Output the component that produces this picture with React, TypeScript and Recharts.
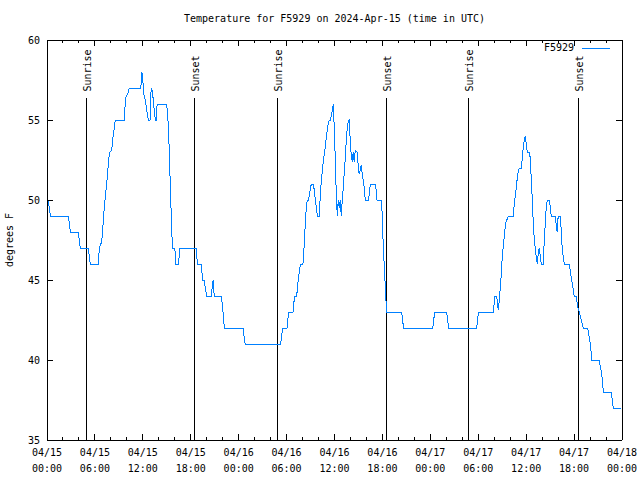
import React from 'react';
import { LineChart, Line, XAxis, YAxis, ReferenceLine, Legend } from 'recharts';

const FONT = '"DejaVu Sans Mono", "Liberation Mono", monospace';
const FS = 10;
const LINE_COLOR = '#0080ff';

const title = 'Temperature for F5929 on 2024-Apr-15 (time in UTC)';
const yLabel = 'degrees F';
const seriesName = 'F5929';

// hours since 04/15 00:00 UTC
const xTicks = [0, 2, 4, 6, 8, 10, 12, 14, 16, 18, 20, 22, 24, 26, 28, 30, 32, 34, 36, 38, 40, 42, 44, 46, 48, 50, 52, 54, 56, 58, 60, 62, 64, 66, 68, 70, 72];
const dateLabels = ['04/15', '04/15', '04/15', '04/15', '04/16', '04/16', '04/16', '04/16', '04/17', '04/17', '04/17', '04/17', '04/18'];
const timeLabels = ['00:00', '06:00', '12:00', '18:00', '00:00', '06:00', '12:00', '18:00', '00:00', '06:00', '12:00', '18:00', '00:00'];
const yTicks = [35, 40, 45, 50, 55, 60];

const sunHours = [4.92, 18.44, 28.84, 42.49, 52.75, 66.53];
const sunLabels = ['Sunrise', 'Sunset', 'Sunrise', 'Sunset', 'Sunrise', 'Sunset'];
const sunLineTop = 56.4;

// [hour, temperature F]
const day1: [number, number][] = [
  [0, 50], [0.2, 50], [0.27, 49.5], [0.45, 49], [2.67, 49], [2.8, 48.5], [2.92, 48], [3.92, 48], [4.04, 47.5], [4.17, 47],
  [5.17, 47], [5.3, 46.5], [5.42, 46], [6.42, 46], [6.55, 47], [6.85, 47.4], [6.97, 48.1], [7.1, 49.1], [7.22, 49.8],
  [7.35, 50.4], [7.47, 51], [7.6, 51.7], [7.72, 52.5], [7.85, 53], [8.1, 53.1], [8.22, 53.8], [8.4, 54.4], [8.55, 55],
  [9.68, 55], [9.8, 56.1], [9.92, 56.5], [10.18, 56.7], [10.3, 57], [11.73, 57], [11.8, 57.3], [11.88, 58], [11.98, 57.6],
  [12.06, 57.1], [12.18, 56.4], [12.3, 56.3], [12.43, 55.8], [12.56, 55.4], [12.69, 55], [12.9, 55], [12.98, 56.6],
  [13.1, 57], [13.24, 56.7], [13.3, 56.2], [13.44, 55.6], [13.56, 55], [13.66, 55], [13.75, 55.8], [13.85, 56],
  [14.99, 56], [15.1, 55.3], [15.22, 54.5], [15.28, 53.5], [15.4, 51.5], [15.53, 49.5], [15.62, 48.3], [15.69, 47],
  [16.0, 47], [16.1, 46.4], [16.15, 46], [16.45, 46], [16.55, 46.5], [16.65, 47], [18.66, 47], [18.76, 46.5], [18.82, 46],
  [19.32, 46], [19.4, 45.5], [19.5, 45], [19.7, 45], [19.82, 44.5], [20.0, 44], [20.57, 44], [20.7, 44.6], [20.8, 45],
  [20.87, 44.4], [20.95, 44], [21.8, 44], [21.95, 43.5], [22.08, 42.8], [22.2, 42], [24.58, 42], [24.7, 41.3], [24.83, 41],
];

const day2: [number, number][] = [
  [29.26, 41], [29.38, 41.5], [29.5, 42], [30.05, 42], [30.14, 42.5], [30.3, 43], [30.8, 43], [30.92, 43.6], [31.0, 44],
  [31.27, 44], [31.39, 44.7], [31.52, 45.2], [31.64, 45.7], [31.77, 46], [32.05, 46], [32.14, 46.5], [32.22, 47.5],
  [32.35, 48.5], [32.47, 49.6], [32.6, 50], [32.72, 50], [32.85, 50.3], [32.97, 50.7], [33.1, 51], [33.35, 51],
  [33.47, 50.6], [33.6, 50], [33.72, 49.6], [33.85, 49], [34.1, 49], [34.22, 50.3], [34.35, 51.2], [34.47, 51.8],
  [34.6, 52.4], [34.72, 52.9], [34.85, 53.3], [34.97, 53.9], [35.1, 54.4], [35.22, 54.8], [35.35, 55], [35.47, 55],
  [35.6, 55.3], [35.72, 55.6], [35.85, 56], [35.97, 54.5], [36.1, 52.5], [36.22, 50.4], [36.35, 49], [36.47, 50],
  [36.6, 49.5], [36.72, 50], [36.85, 49], [36.97, 50], [37.1, 50.8], [37.22, 51.7], [37.35, 52.6], [37.47, 53.7],
  [37.6, 54.5], [37.72, 54.9], [37.85, 55], [37.97, 53.7], [38.1, 52.8], [38.22, 52.4], [38.35, 53], [38.47, 52.4],
  [38.6, 53.1], [38.85, 53], [38.97, 52.1], [39.1, 51.6], [39.22, 51.9], [39.35, 52.2], [39.47, 51.6], [39.6, 51.2],
  [39.72, 50.8], [39.85, 50], [40.28, 50], [40.4, 50.7], [40.52, 51], [41.06, 51], [41.2, 50.7], [41.32, 50], [41.82, 50],
  [41.95, 49.3], [42.07, 47.6], [42.2, 46.2], [42.32, 45], [42.45, 43.7], [42.53, 43], [44.41, 43], [44.54, 42.4],
  [44.67, 42], [48.3, 42], [48.42, 42.5], [48.55, 43], [50.05, 43], [50.17, 42.5], [50.3, 42],
];

const day3: [number, number][] = [
  [53.8, 42], [53.93, 42.6], [54.06, 43], [55.89, 43], [56.0, 43.6], [56.1, 44], [56.3, 44], [56.43, 43.5], [56.51, 43.1],
  [56.62, 43.7], [56.76, 44.5], [56.89, 45.4], [57.01, 46.5], [57.14, 47.1], [57.27, 47.8], [57.39, 48.4], [57.52, 48.75],
  [57.64, 48.8], [57.77, 49], [58.39, 49], [58.52, 49.8], [58.64, 50.3], [58.77, 50.8], [58.89, 51.4], [59.02, 51.8],
  [59.14, 52], [59.39, 52], [59.52, 52.6], [59.64, 53.3], [59.77, 53.75], [59.89, 54], [60.02, 53.5], [60.14, 53],
  [60.39, 53], [60.52, 52.6], [60.64, 51.3], [60.77, 50], [60.89, 48.5], [61.02, 47.5], [61.14, 47], [61.27, 46.4],
  [61.39, 46], [61.52, 46.7], [61.64, 47], [61.77, 46.5], [61.89, 46], [62.14, 46], [62.27, 47.5], [62.39, 48.5],
  [62.52, 49.6], [62.64, 50], [62.89, 50], [63.02, 49.6], [63.14, 49], [63.64, 49], [63.77, 48.4], [63.89, 48],
  [63.97, 48.75], [64.02, 49], [64.27, 49], [64.39, 48.1], [64.52, 46.9], [64.64, 46.5], [64.77, 46], [65.39, 46],
  [65.52, 45.6], [65.64, 45.2], [65.77, 44.8], [65.89, 44.4], [66.02, 44], [66.27, 44], [66.4, 43.5], [66.52, 43.2],
  [66.65, 43], [66.78, 42.7], [66.9, 42.5], [67.03, 42.2], [67.16, 42], [67.7, 42], [67.83, 41.6], [67.95, 41.3],
  [68.08, 40.8], [68.2, 40], [69.16, 40], [69.28, 39.6], [69.41, 39.25], [69.53, 38.8], [69.66, 38], [70.66, 38],
  [70.78, 37.5], [70.91, 37], [71.88, 37],
];

const data = [...day1, ...day2, ...day3].map(([h, t]) => ({ h, t }));

const CRISP = 'crispEdges';

const BottomTick = (props: any) => {
  const { x, y, payload } = props;
  const v = payload.value;
  const major = v % 6 === 0;
  const i = v / 6;
  return (
    <g>
      <line x1={x} y1={y} x2={x} y2={y - (major ? 6 : 3)} stroke="#000" shapeRendering={CRISP} />
      {major && (
        <text textAnchor="middle" fontFamily={FONT} fontSize={FS} fill="#000">
          <tspan x={x} y={y + 16}>{dateLabels[i]}</tspan>
          <tspan x={x} y={y + 32}>{timeLabels[i]}</tspan>
        </text>
      )}
    </g>
  );
};

const TopTick = (props: any) => {
  const { x, y, payload } = props;
  const major = payload.value % 6 === 0;
  return <line x1={x} y1={y} x2={x} y2={y + (major ? 6 : 3)} stroke="#000" shapeRendering={CRISP} />;
};

const LeftTick = (props: any) => {
  const { x, y, payload } = props;
  return (
    <g>
      <line x1={x} y1={y} x2={x + 6} y2={y} stroke="#000" shapeRendering={CRISP} />
      <text x={x - 7} y={y + 3.5} textAnchor="end" fontFamily={FONT} fontSize={FS} fill="#000">
        {payload.value}
      </text>
    </g>
  );
};

const RightTick = (props: any) => {
  const { x, y } = props;
  return <line x1={x} y1={y} x2={x - 6} y2={y} stroke="#000" shapeRendering={CRISP} />;
};

const SunLabel = (text: string) => (props: any) => {
  const vb = props.viewBox || {};
  const tx = vb.x + 5;
  const ty = vb.y - 6;
  return (
    <text
      x={tx}
      y={ty}
      transform={`rotate(-90 ${tx} ${ty})`}
      textAnchor="start"
      fontFamily={FONT}
      fontSize={FS}
      fill="#000"
    >
      {text}
    </text>
  );
};

const LegendContent = () => (
  <div style={{ display: 'flex', justifyContent: 'flex-end', alignItems: 'center', fontFamily: FONT, fontSize: FS, lineHeight: '12px', color: '#000' }}>
    <span>{seriesName}</span>
    <svg width={36} height={12} style={{ display: 'block' }}>
      <line x1={8} y1={6.5} x2={36} y2={6.5} stroke={LINE_COLOR} strokeWidth={1} shapeRendering={CRISP} />
    </svg>
  </div>
);

const axisStyle = { stroke: '#000', shapeRendering: CRISP };

export default function App() {
  return (
    <div style={{ position: 'absolute', left: 0, top: 0, width: 640, height: 480, background: '#fff' }}>
      <div
        style={{
          position: 'absolute', left: 47, top: 13, width: 575, textAlign: 'center',
          fontFamily: FONT, fontSize: FS, lineHeight: '12px', color: '#000', whiteSpace: 'nowrap',
        }}
      >
        {title}
      </div>
      <div
        style={{
          position: 'absolute', left: 10, top: 240, transform: 'translate(-50%, -50%) rotate(-90deg)',
          fontFamily: FONT, fontSize: FS, lineHeight: '12px', color: '#000', whiteSpace: 'nowrap',
        }}
      >
        {yLabel}
      </div>
      <LineChart width={640} height={480} data={data} margin={{ top: 0, right: 0, bottom: 0, left: 0 }}>
        <XAxis
          xAxisId="b" dataKey="h" type="number" domain={[0, 72]} ticks={xTicks} interval={0}
          height={40} tickSize={0} tickMargin={0} tickLine={false} tick={<BottomTick />}
          axisLine={axisStyle} allowDataOverflow
        />
        <XAxis
          xAxisId="t" orientation="top" dataKey="h" type="number" domain={[0, 72]} ticks={xTicks} interval={0}
          height={40} tickSize={0} tickMargin={0} tickLine={false} tick={<TopTick />}
          axisLine={axisStyle} allowDataOverflow
        />
        <YAxis
          yAxisId="l" type="number" domain={[35, 60]} ticks={yTicks} interval={0} width={47}
          tickSize={0} tickMargin={0} tickLine={false} tick={<LeftTick />} axisLine={axisStyle} allowDataOverflow
        />
        <YAxis
          yAxisId="r" orientation="right" type="number" domain={[35, 60]} ticks={yTicks} interval={0} width={18}
          tickSize={0} tickMargin={0} tickLine={false} tick={<RightTick />} axisLine={axisStyle} allowDataOverflow
        />
        {sunHours.map((h, i) => (
          <ReferenceLine
            key={i}
            xAxisId="b"
            yAxisId="l"
            segment={[{ x: h, y: 35 }, { x: h, y: sunLineTop }]}
            stroke="#000"
            strokeWidth={1}
            shapeRendering={CRISP}
            label={SunLabel(sunLabels[i])}
          />
        ))}
        <Line
          xAxisId="b" yAxisId="l" dataKey="t" type="linear" stroke={LINE_COLOR} strokeWidth={1}
          dot={false} activeDot={false} isAnimationActive={false} name={seriesName}
          shapeRendering={CRISP}
        />
        <Legend
          layout="vertical" align="center" verticalAlign="middle"
          wrapperStyle={{ top: 42, left: 500, width: 110, height: 12 }}
          content={() => <LegendContent />}
        />
      </LineChart>
    </div>
  );
}
